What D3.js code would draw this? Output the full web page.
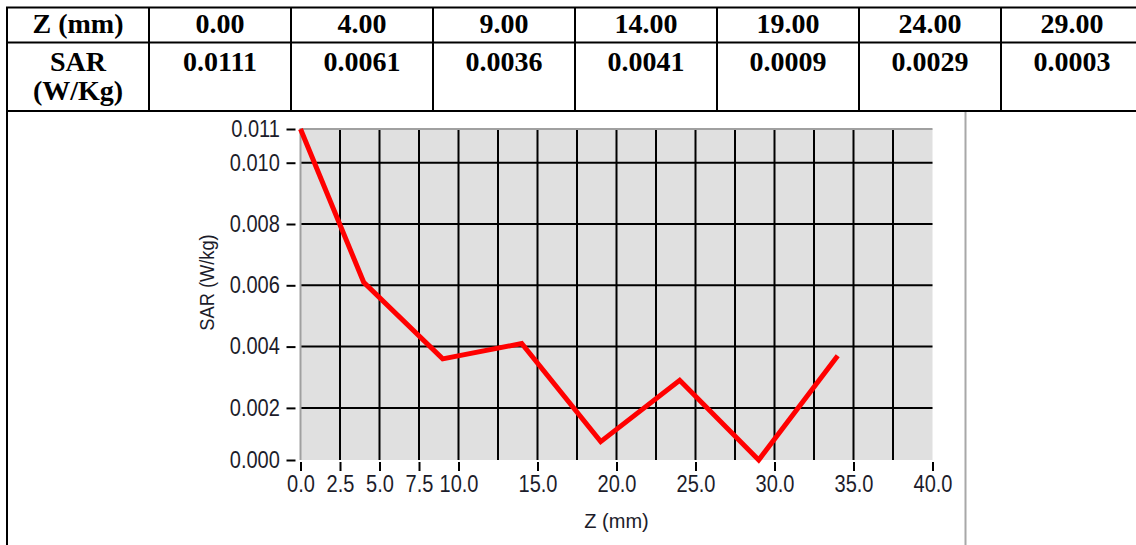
<!DOCTYPE html>
<html>
<head>
<meta charset="utf-8">
<script src="https://cdn.jsdelivr.net/npm/d3@7"></script>
<style>
  body { margin: 0; background: #fff; }
  svg { display: block; }
  .cell-text { font-family: "Liberation Serif", "Times New Roman", serif; font-weight: bold; font-size: 28px; fill: #000; }
  .axis text { font-family: "Liberation Sans", Arial, sans-serif; font-size: 23px; fill: #1c1c2a; }
  .axis line { stroke: #000; stroke-width: 2; }
  .axis-title { font-family: "Liberation Sans", Arial, sans-serif; fill: #1c1c2a; }
</style>
</head>
<body>
<div id="chart"></div>
<script>
// table values
const tableZ = [0, 4, 9, 14, 19, 24, 29];
const tableSar = [0.0111, 0.0061, 0.0036, 0.0041, 0.0009, 0.0029, 0.0003];

// plotted curve (one more point than the table)
const zValues = [0, 4, 9, 14, 19, 24, 29, 34];
const sarValues = [0.0111, 0.0061, 0.0036, 0.0041, 0.0009, 0.0029, 0.0003, 0.0037];

const xTicks = [0, 2.5, 5, 7.5, 10, 15, 20, 25, 30, 35, 40];
const xGrid = [2.5, 5, 7.5, 10, 12.5, 15, 17.5, 20, 22.5, 25, 27.5, 30, 32.5, 35, 37.5];
const yTicks = [0.0003, 0.002, 0.004, 0.006, 0.008, 0.010, 0.0111];
const yGrid = [0.002, 0.004, 0.006, 0.008, 0.010];

const width = 1136;
const height = 545;
const narrow = 0.87; // labels in the graph are a narrow face

const svg = d3.select("#chart").append("svg")
  .attr("width", width)
  .attr("height", height);

// ---- table ----
const colLeft = 7;
const colW = 142;
const rowTop = 7.5;
const rowMid = 42.5;
const rowBottom = 111;
const nCols = tableZ.length + 1;

const table = svg.append("g").attr("class", "table");

table.selectAll(".hline")
  .data([rowTop, rowMid, rowBottom])
  .join("line")
  .attr("x1", colLeft - 1)
  .attr("x2", width)
  .attr("y1", (d) => d)
  .attr("y2", (d) => d)
  .attr("stroke", "#000")
  .attr("stroke-width", 2);

table.selectAll(".vline")
  .data(d3.range(nCols + 1))
  .join("line")
  .attr("x1", (i) => colLeft + i * colW)
  .attr("x2", (i) => colLeft + i * colW)
  .attr("y1", rowTop)
  .attr("y2", (i) => (i === 0 ? height : rowBottom))
  .attr("stroke", "#000")
  .attr("stroke-width", 2);

const colCenter = (i) => colLeft + i * colW + colW / 2;

table.append("text")
  .attr("class", "cell-text")
  .attr("x", colCenter(0))
  .attr("y", 33)
  .attr("text-anchor", "middle")
  .text("Z (mm)");

table.selectAll(".zcell")
  .data(tableZ)
  .join("text")
  .attr("class", "cell-text")
  .attr("x", (_, i) => colCenter(i + 1))
  .attr("y", 33)
  .attr("text-anchor", "middle")
  .text((d) => d.toFixed(2));

table.append("text")
  .attr("class", "cell-text")
  .attr("x", colCenter(0))
  .attr("y", 70.5)
  .attr("text-anchor", "middle")
  .text("SAR");
table.append("text")
  .attr("class", "cell-text")
  .attr("x", colCenter(0))
  .attr("y", 99.5)
  .attr("text-anchor", "middle")
  .text("(W/Kg)");

table.selectAll(".sarcell")
  .data(tableSar)
  .join("text")
  .attr("class", "cell-text")
  .attr("x", (_, i) => colCenter(i + 1))
  .attr("y", 70.5)
  .attr("text-anchor", "middle")
  .text((d) => d.toFixed(4));

// panel edge of the graph screenshot
svg.append("line")
  .attr("x1", 965.5).attr("x2", 965.5)
  .attr("y1", 112).attr("y2", height)
  .attr("stroke", "#a8a8a8")
  .attr("stroke-width", 2);

// ---- graph ----
const plotLeft = 300.5;
const plotRight = 932.5;
const plotTop = 129;
const plotBottom = 460;

const x = d3.scaleLinear().domain([0, 40]).range([plotLeft, plotRight]);
const y = d3.scaleLinear().domain([0.0003, 0.0111]).range([plotBottom, plotTop]);

const plot = svg.append("g").attr("class", "plot");

plot.append("rect")
  .attr("x", plotLeft)
  .attr("y", plotTop)
  .attr("width", plotRight - plotLeft)
  .attr("height", plotBottom - plotTop)
  .attr("fill", "#e0e0e0");

plot.selectAll(".xgrid")
  .data(xGrid)
  .join("line")
  .attr("x1", (d) => x(d))
  .attr("x2", (d) => x(d))
  .attr("y1", plotTop)
  .attr("y2", plotBottom)
  .attr("stroke", "#000")
  .attr("stroke-width", 2);

plot.selectAll(".ygrid")
  .data(yGrid)
  .join("line")
  .attr("x1", plotLeft)
  .attr("x2", plotRight)
  .attr("y1", (d) => y(d))
  .attr("y2", (d) => y(d))
  .attr("stroke", "#000")
  .attr("stroke-width", 2);

// light frame on top and left
plot.append("path")
  .attr("d", `M${plotLeft},${plotBottom}V${plotTop}H${plotRight}`)
  .attr("fill", "none")
  .attr("stroke", "#a0a0a0")
  .attr("stroke-width", 2);

const line = d3.line()
  .x((d) => x(d[0]))
  .y((d) => y(d[1]));

plot.append("path")
  .datum(d3.zip(zValues, sarValues))
  .attr("d", line)
  .attr("fill", "none")
  .attr("stroke", "#ff0000")
  .attr("stroke-width", 5)
  .attr("stroke-linejoin", "miter");

// axes
svg.append("g")
  .attr("class", "axis")
  .attr("transform", `translate(0,${plotBottom + 2})`)
  .call(
    d3.axisBottom(x)
      .tickValues(xTicks)
      .tickSize(9)
      .tickPadding(5)
      .tickFormat(d3.format(".1f"))
  )
  .call((g) => g.select(".domain").remove())
  .call((g) => g.selectAll("text").attr("transform", `scale(${narrow},1)`));

svg.append("g")
  .attr("class", "axis")
  .attr("transform", `translate(${plotLeft - 5},0)`)
  .call(
    d3.axisLeft(y)
      .tickValues(yTicks)
      .tickSize(9)
      .tickPadding(9)
      .tickFormat(d3.format(".3f"))
  )
  .call((g) => g.select(".domain").remove())
  .call((g) => g.selectAll("text").attr("transform", `scale(${narrow},1)`));

svg.append("text")
  .attr("class", "axis-title")
  .attr("x", x(20))
  .attr("y", 528)
  .attr("text-anchor", "middle")
  .attr("font-size", 20)
  .text("Z (mm)");

svg.append("text")
  .attr("class", "axis-title")
  .attr("transform", `translate(214,${(plotTop + plotBottom) / 2 - 12}) rotate(-90) scale(${narrow},1)`)
  .attr("text-anchor", "middle")
  .attr("font-size", 21)
  .text("SAR (W/kg)");
</script>
</body>
</html>
